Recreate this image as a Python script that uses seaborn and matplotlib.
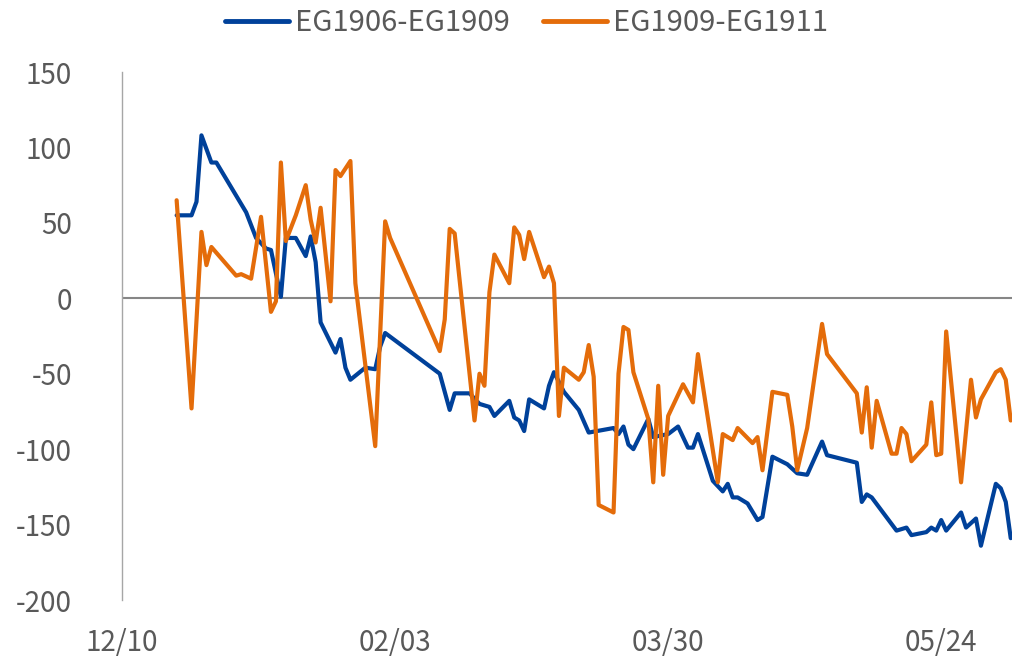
import pandas as pd
import matplotlib
matplotlib.use("Agg")
import matplotlib.pyplot as plt
import matplotlib.dates as mdates
import seaborn as sns

# trading dates as MM/DD (December is 2018, the rest 2019)
dates_a = ["12/21", "12/24", "12/25", "12/26", "12/28", "12/29", "01/02", "01/04", "01/06", "01/08",
           "01/09", "01/11", "01/12", "01/14", "01/16", "01/17", "01/18", "01/19", "01/22", "01/23",
           "01/24", "01/25", "01/28", "01/30", "01/31", "02/01", "02/12", "02/14", "02/15", "02/18",
           "02/20", "02/22", "02/23", "02/26", "02/27", "02/28", "03/01", "03/02", "03/05", "03/06",
           "03/07", "03/09", "03/12", "03/14", "03/19", "03/20", "03/21", "03/22", "03/23", "03/26",
           "03/27", "03/30", "04/01", "04/03", "04/04", "04/05", "04/08", "04/10", "04/11", "04/12",
           "04/13", "04/15", "04/17", "04/18", "04/20", "04/23", "04/25", "04/27", "04/30", "05/01",
           "05/07", "05/08", "05/09", "05/10", "05/15", "05/17", "05/18", "05/21", "05/22", "05/23",
           "05/24", "05/25", "05/28", "05/29", "05/31", "06/01", "06/04", "06/05", "06/06", "06/07"]
spread_a = [55, 55, 64, 108, 90, 90, 68, 57, 40, 33,
            32, 1, 40, 40, 28, 41, 24, -16, -36, -27,
            -46, -54, -46, -47, -32, -23, -50, -74, -63, -63,
            -70, -72, -78, -68, -79, -81, -88, -67, -73, -58,
            -49, -62, -74, -89, -86, -90, -85, -97, -100, -80,
            -92, -90, -85, -99, -99, -90, -121, -128, -123, -132,
            -132, -136, -147, -145, -105, -110, -116, -117, -95, -104,
            -109, -135, -130, -132, -154, -152, -157, -155, -152, -154,
            -147, -154, -142, -152, -146, -164, -123, -126, -135, -159]

dates_b = ["12/21", "12/24", "12/26", "12/27", "12/28", "01/02", "01/03", "01/05", "01/07", "01/09",
           "01/10", "01/11", "01/12", "01/14", "01/16", "01/17", "01/18", "01/19", "01/21", "01/22",
           "01/23", "01/25", "01/26", "01/30", "02/01", "02/02", "02/12", "02/13", "02/14", "02/15",
           "02/19", "02/20", "02/21", "02/22", "02/23", "02/26", "02/27", "02/28", "03/01", "03/02",
           "03/05", "03/06", "03/07", "03/08", "03/09", "03/12", "03/13", "03/14", "03/15", "03/16",
           "03/19", "03/20", "03/21", "03/22", "03/23", "03/26", "03/27", "03/28", "03/29", "03/30",
           "04/02", "04/04", "04/05", "04/09", "04/10", "04/12", "04/13", "04/16", "04/17", "04/18",
           "04/20", "04/23", "04/24", "04/25", "04/27", "04/30", "05/01", "05/07", "05/08", "05/09",
           "05/10", "05/11", "05/14", "05/15", "05/16", "05/17", "05/18", "05/21", "05/22", "05/23",
           "05/24", "05/25", "05/28", "05/30", "05/31", "06/01", "06/04", "06/05", "06/06", "06/07"]
spread_b = [65, -73, 44, 22, 34, 15, 16, 13, 54, -9,
            -2, 90, 38, 55, 75, 52, 37, 60, -2, 85,
            81, 91, 10, -98, 51, 40, -35, -14, 46, 43,
            -81, -50, -58, 4, 29, 10, 47, 42, 26, 44,
            14, 21, 10, -78, -46, -54, -49, -31, -52, -137,
            -142, -50, -19, -21, -49, -80, -122, -58, -117, -78,
            -57, -69, -37, -122, -90, -94, -86, -96, -92, -114,
            -62, -64, -85, -114, -86, -17, -37, -63, -89, -59,
            -99, -68, -103, -103, -86, -90, -108, -97, -69, -104,
            -103, -22, -122, -54, -79, -67, -49, -47, -54, -81]

names = ["EG1906-EG1909", "EG1909-EG1911"]
colors = ["#00419A", "#E46C0A"]
tick_dates = ["12/10", "02/03", "03/30", "05/24"]


def to_date(s):
    year = 2018 if s.startswith("12") else 2019
    return pd.Timestamp(f"{year}-{s.replace('/', '-')}")


df = pd.concat([
    pd.DataFrame({"date": [to_date(d) for d in dates_a], "value": spread_a, "series": names[0]}),
    pd.DataFrame({"date": [to_date(d) for d in dates_b], "value": spread_b, "series": names[1]}),
])

sns.set_theme(style="white")
plt.rcParams["font.family"] = ["Noto Sans CJK SC", "DejaVu Sans"]
plt.rcParams["axes.unicode_minus"] = False

fig = plt.figure(figsize=(10.28, 6.6), dpi=100)
ax = fig.add_axes([0.1187, 0.0909, 0.8657, 0.8])

sns.lineplot(data=df, x="date", y="value", hue="series", palette=colors,
             linewidth=3, estimator=None, ax=ax)

ax.axhline(0, color="#868686", linewidth=1.5, zorder=0)
ax.set_xlim(to_date("12/10"), to_date("06/07") + pd.Timedelta(hours=6))
ax.set_ylim(-200, 150)
ax.set_yticks(range(-200, 151, 50))
ax.set_xticks([to_date(t) for t in tick_dates])
ax.xaxis.set_major_formatter(mdates.DateFormatter("%m/%d"))
ax.set_xlabel("")
ax.set_ylabel("")

for s in ["top", "right", "bottom"]:
    ax.spines[s].set_visible(False)
ax.spines["left"].set_color("#A6A6A6")
ax.spines["left"].set_linewidth(1)

ax.tick_params(axis="y", length=0, labelsize=20, labelcolor="#595959", pad=36)
ax.tick_params(axis="x", length=0, labelsize=20, labelcolor="#595959", pad=20)

leg = ax.legend(loc="upper center", bbox_to_anchor=(0.512, 1.01), bbox_transform=fig.transFigure,
                ncol=2, frameon=False, fontsize=21, handlelength=2.2, handletextpad=0.2,
                columnspacing=1.15, borderaxespad=0.1)
for t in leg.get_texts():
    t.set_color("#595959")
for h in leg.get_lines():
    h.set_linewidth(3.5)

fig.savefig("out.png", dpi=100)
